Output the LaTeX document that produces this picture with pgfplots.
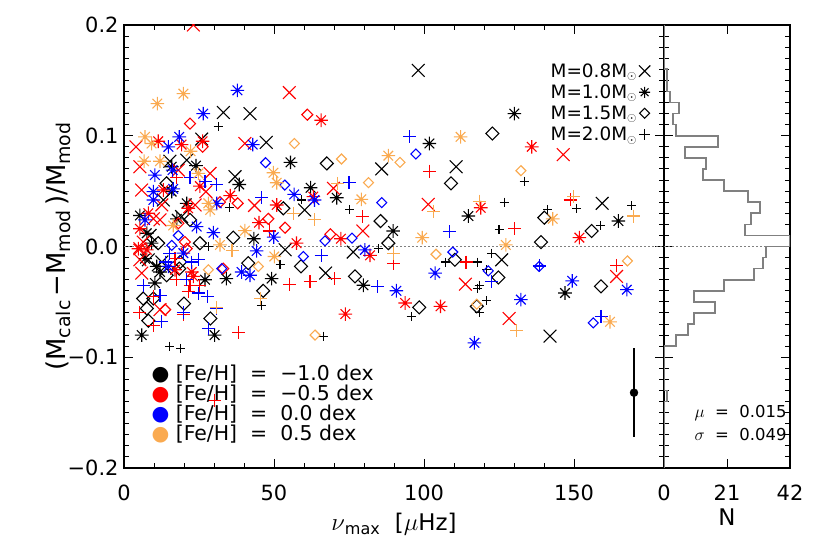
\documentclass[border=0pt]{standalone}
\usepackage{pgfplots}
\pgfplotsset{compat=1.18}
\usepackage{fontspec}
\setmainfont{DejaVu Sans}
\definecolor{feorange}{RGB}{250,170,80}
\definecolor{histgray}{RGB}{128,128,128}

% 8-armed asterisk (IDL psym=2)
\pgfdeclareplotmark{ast8}{%
  \pgfpathmoveto{\pgfqpoint{-\pgfplotmarksize}{0pt}}\pgfpathlineto{\pgfqpoint{\pgfplotmarksize}{0pt}}%
  \pgfpathmoveto{\pgfqpoint{0pt}{-\pgfplotmarksize}}\pgfpathlineto{\pgfqpoint{0pt}{\pgfplotmarksize}}%
  \pgfpathmoveto{\pgfqpoint{-.707\pgfplotmarksize}{-.707\pgfplotmarksize}}\pgfpathlineto{\pgfqpoint{.707\pgfplotmarksize}{.707\pgfplotmarksize}}%
  \pgfpathmoveto{\pgfqpoint{-.707\pgfplotmarksize}{.707\pgfplotmarksize}}\pgfpathlineto{\pgfqpoint{.707\pgfplotmarksize}{-.707\pgfplotmarksize}}%
  \pgfusepathqstroke}
% open square diamond
\pgfdeclareplotmark{dia}{%
  \pgfpathmoveto{\pgfqpoint{0pt}{\pgfplotmarksize}}%
  \pgfpathlineto{\pgfqpoint{\pgfplotmarksize}{0pt}}%
  \pgfpathlineto{\pgfqpoint{0pt}{-\pgfplotmarksize}}%
  \pgfpathlineto{\pgfqpoint{-\pgfplotmarksize}{0pt}}%
  \pgfpathclose\pgfusepathqstroke}

\newcommand{\sub}[1]{\raisebox{-5bp}{\fontsize{19}{21}\selectfont #1}}

\pgfplotsset{
  mx/.style={only marks, mark=x, mark size=9bp, mark options={line width=1.1bp}, forget plot},
  ma/.style={only marks, mark=ast8, mark size=6.8bp, mark options={line width=1.1bp}, forget plot},
  md/.style={only marks, mark=dia, mark size=6.5bp, mark options={line width=1.1bp}, forget plot},
  mp/.style={only marks, mark=+, mark size=6.5bp, mark options={line width=1.1bp}, forget plot},
  idl/.style={
    scale only axis, height=443bp,
    ymin=-0.2, ymax=0.2,
    ytick={-0.2,-0.1,0,0.1,0.2}, minor y tick num=9,
    tick align=inside, major tick length=9bp, minor tick length=5bp,
    axis line style={line width=1.3bp},
    every tick/.style={black, line width=1bp},
    tick label style={font=\fontsize{21}{23}\selectfont},
    label style={font=\fontsize{23}{25}\selectfont},
    xticklabel style={yshift=-13bp},
    clip marker paths=true,
  },
}

\begin{document}
\begin{tikzpicture}
\path[use as bounding box] (0,0) rectangle (830bp,553bp);

\begin{axis}[idl, at={(124bp,85bp)}, anchor=south west, width=540bp,
  xmin=0, xmax=180,
  xtick={0,50,100,150}, xticklabels={0,50,100,150}, minor x tick num=4,
  yticklabels={−0.2,−0.1,0.0,0.1,0.2}, yticklabel style={xshift=-2bp},
  xlabel={$\nu$\textsubscript{max}\ \ [$\mu$Hz]},
  xlabel style={yshift=-6bp},
  ylabel={(M\sub{calc}\,−M\sub{mod}\,)/M\sub{mod}},
  ylabel style={font=\fontsize{26}{28}\selectfont, yshift=-10bp},
  legend plot pos=right, legend cell align=right,
  legend style={at={(0.975,0.918)}, anchor=north east, draw=none, fill=none,
    font=\fontsize{18.5}{20}\selectfont, row sep=2bp, inner sep=0pt},
]
\addlegendimage{only marks, mark=x, mark size=8bp, black, mark options={line width=1.1bp}}
\addlegendentry{M=0.8M$_\odot$}
\addlegendimage{only marks, mark=ast8, mark size=5.5bp, black, mark options={line width=1.1bp}}
\addlegendentry{M=1.0M$_\odot$}
\addlegendimage{only marks, mark=dia, mark size=5bp, black, mark options={line width=1.1bp}}
\addlegendentry{M=1.5M$_\odot$}
\addlegendimage{only marks, mark=+, mark size=5.5bp, black, mark options={line width=1.1bp}}
\addlegendentry{M=2.0M$_\odot$}

\addplot[histgray, line width=1.2bp, dash pattern=on 1.5bp off 2.5bp, forget plot] coordinates {(0,0) (180,0)};

% [Fe/H] = -1.0 (black)
\addplot[mx, black] coordinates {(98.1,0.159) (33.1,0.121) (42,0.120) (25.9,0.097) (47.4,0.094) (37,0.063) (15.3,0.077) (20.9,0.078) (85.9,0.070) (110.7,0.072) (60.2,0.033) (159.4,0.039) (13.1,0.042) (19.2,0.027) (8.7,0.010) (53.7,-0.003) (76.4,-0.005) (125.9,-0.012) (67.2,-0.024) (8.1,-0.012) (12.6,-0.014) (142,-0.081)};
\addplot[ma, black] coordinates {(130.1,0.120) (101.8,0.093) (24,0.073) (15.9,0.072) (55.5,0.076) (38.4,0.056) (62.2,0.053) (70.9,0.044) (15.9,0.0495) (5.3,0.028) (20.9,0.039) (17.6,0.025) (89.7,0.014) (114.8,0.0275) (164.8,0.023) (43.3,0.007) (9.2,0.003) (7.6,0.012) (7,-0.011) (10.9,-0.018) (12,-0.023) (10.3,-0.033) (27,-0.030) (34.1,-0.029) (49.2,-0.029) (79.8,-0.035) (147,-0.042) (5.9,-0.080) (30.2,-0.080)};
\addplot[md, black] coordinates {(122.8,0.102) (67.6,0.075) (109,0.057) (14.2,0.057) (53.1,0.0345) (85.5,0.023) (140.1,0.026) (155.9,0.014) (139,0.004) (88.1,0.003) (22,0.024) (36.4,0.008) (25.3,0.003) (11.4,0.003) (14.2,-0.026) (18.7,-0.014) (18.4,-0.020) (41.4,-0.015) (59,-0.018) (110.3,-0.012) (124.8,-0.028) (77,-0.027) (159,-0.036) (6.4,-0.047) (9.8,-0.047) (7.6,-0.056) (8.1,-0.067) (20,-0.0515) (28.8,-0.065) (46.4,-0.040) (98.4,-0.055) (117.6,-0.054)};
\addplot[mp, black, mark size=4.5bp] coordinates {(31.4,0.108) (133.4,0.059) (59.2,0.042) (126.7,0.040) (35.3,0.035) (75.3,0.0335) (150.9,0.0345) (141.2,0.0335) (169.2,0.037) (158.7,0.019) (125,0.015) (28.1,0.0) (84.8,-0.002) (52,-0.016) (107.2,-0.014) (117.9,-0.014) (122.6,-0.006) (120.9,-0.021) (118.4,-0.035) (117.8,-0.038) (15.3,-0.090) (18.9,-0.092) (45.8,-0.053) (66.4,-0.081) (95.7,-0.063) (120.7,-0.049) (118.4,-0.060)};

% [Fe/H] = -0.5 (red)
\addplot[mx, red] coordinates {(23.1,0.2) (55.1,0.139) (40.3,0.093) (146.4,0.083) (4,0.090) (5.3,0.072) (18.1,0.069) (28.7,0.066) (69.8,0.0525) (5.9,0.051) (27.3,0.0495) (101.4,0.038) (12.6,0.0375) (23.7,0.0375) (43.5,0.037) (9.8,0.025) (12,0.024) (79.6,0.014) (6.4,0.004) (5.3,-0.002) (5.3,-0.012) (5.9,-0.024) (113.8,-0.034) (164.2,-0.027) (12,-0.057) (128.4,-0.065)};
\addplot[ma, red] coordinates {(65.7,0.114) (11.4,0.095) (26.2,0.095) (19.2,0.092) (135.9,0.090) (25.3,0.0545) (35.4,0.046) (63.1,0.045) (13.1,0.051) (50.9,0.0375) (21.4,0.0345) (8.1,0.030) (45,0.0215) (5.3,0.016) (118.9,0.035) (72.3,0.007) (57.5,0.003) (151.8,0.008) (4.8,-0.002) (7.6,-0.003) (82,-0.008) (17,-0.021) (22.6,-0.023) (23.1,-0.027) (73.8,-0.061) (93.7,-0.051) (105.5,-0.054)};
\addplot[md, red, mark size=5.5bp] coordinates {(61.1,0.119) (22,0.111) (26.2,0.090) (37.9,0.039) (48.1,0.025) (53.7,0.017) (68.8,0.011) (18.1,0.021) (20.3,0.004) (20.9,-0.002) (33.1,-0.020) (13.7,-0.057) (32,0.040)};
\addplot[mp, red] coordinates {(101.8,0.068) (148.7,0.042) (17.6,0.062) (79.4,0.027) (130.3,0.016) (48.4,0.014) (89.8,-0.015) (114,-0.014) (164.2,-0.017) (17,-0.011) (55.1,-0.034) (62,-0.032) (70.2,-0.029) (17.6,-0.030) (22,-0.035) (25.3,-0.035) (21.4,-0.041) (9.8,-0.045) (5.3,-0.060) (19.7,-0.061) (9.8,-0.071) (38.2,-0.078) (30.3,-0.139)};

% [Fe/H] = 0.0 (blue)
\addplot[ma, blue] coordinates {(37.8,0.141) (26.4,0.120) (18.4,0.099) (14.8,0.090) (42.9,0.092) (10.3,0.0645) (16.2,0.069) (16.4,0.052) (9.8,0.0495) (9.8,0.042) (56.7,0.047) (63.5,0.042) (30.9,0.039) (7,0.024) (24.2,0.018) (29.8,0.0125) (49.9,0.0085) (80.3,-0.003) (44.2,-0.004) (19.8,-0.006) (14.8,-0.018) (39.2,-0.023) (42,-0.026) (103.7,-0.024) (90.8,-0.040) (149.4,-0.031) (167.6,-0.039) (116.8,-0.087) (132.3,-0.048)};
\addplot[md, blue, mark size=5bp] coordinates {(97.3,0.0835) (47.2,0.0757) (53.6,0.0555) (85.9,0.0396) (76,0.0075) (67,0.005) (18.1,0.010) (15.9,0.001) (59.8,-0.009) (109.6,-0.005) (121.4,-0.022) (138.4,-0.018) (32.6,-0.020) (156.4,-0.069)};
\addplot[mp, blue] coordinates {(95.3,0.099) (22,0.062) (27,0.0586) (30.9,0.056) (75,0.0576) (45.9,0.0444) (108.4,0.0134) (65.7,-0.008) (84.4,-0.0365) (122.6,-0.032) (138.4,-0.0176) (6.4,-0.035) (15.3,-0.006) (13.7,-0.014) (22.6,-0.014) (24.8,-0.012) (20.9,-0.030) (12,-0.044) (12.6,-0.068) (24.8,-0.042) (27.8,-0.045) (28.1,-0.074) (30.9,-0.056) (19.8,-0.060) (159,-0.063)};

% [Fe/H] = 0.5 (orange)
\addplot[ma, feorange] coordinates {(11.1,0.129) (19.8,0.138) (7,0.099) (9.2,0.093) (112.2,0.099) (88.1,0.082) (22.2,0.086) (6.7,0.077) (12,0.077) (24.8,0.066) (49.8,0.0666) (50.9,0.0576) (79.1,0.0426) (28.1,0.039) (28.7,0.033) (16.4,0.019) (40.3,0.0143) (142.9,0.025) (99.4,0.008) (127.3,0.0014) (32,0.0014) (50.1,-0.009) (162,-0.068)};
\addplot[md, feorange, mark size=5bp] coordinates {(56.8,0.093) (72.5,0.079) (81.5,0.0576) (92,0.076) (132.3,0.0685) (104,-0.007) (44.8,-0.018) (28.1,-0.021) (167.8,-0.013) (63.7,-0.080) (117.6,-0.052)};
\addplot[mp, feorange] coordinates {(71.1,0.057) (118.4,0.041) (149.8,0.045) (103.3,0.032) (169.8,0.0275) (56.4,0.030) (63.4,0.024) (89.8,-0.006) (36,-0.004) (30.7,-0.055) (130.9,-0.076) (45.5,-0.047)};

% typical error bar
\addplot[black, only marks, mark=*, mark size=4bp, forget plot,
  error bars/.cd, y dir=both, y explicit, error mark=none,
  error bar style={line width=1.1bp}] coordinates {(170,-0.132) +- (0,0.04)};

\node[anchor=west, font=\fontsize{20.5}{22}\selectfont] at (axis cs:8,-0.115) {\textcolor{black}{●}\ [Fe/H]\ \ =\ \ −1.0\ dex};
\node[anchor=west, font=\fontsize{20.5}{22}\selectfont] at (axis cs:8,-0.133) {\textcolor{red}{●}\ [Fe/H]\ \ =\ \ −0.5\ dex};
\node[anchor=west, font=\fontsize{20.5}{22}\selectfont] at (axis cs:8,-0.151) {\textcolor{blue}{●}\ [Fe/H]\ \ =\ \ 0.0\ dex};
\node[anchor=west, font=\fontsize{20.5}{22}\selectfont] at (axis cs:8,-0.169) {\textcolor{feorange}{●}\ [Fe/H]\ \ =\ \ 0.5\ dex};
\end{axis}

\begin{axis}[idl, at={(664bp,85bp)}, anchor=south west, width=126bp,
  xmin=0, xmax=42, xtick={0,21,42}, xticklabels={0,21,42},
  yticklabels={},
  xlabel={N}, xlabel style={yshift=-2bp},
]
\addplot[histgray, line width=1.2bp, dash pattern=on 1.5bp off 2.5bp] coordinates {(0,0) (42,0)};
\addplot[histgray, line width=1.6bp] coordinates {
(0,0.2) (0,0.16) (1,0.16) (1,0.14) (2,0.14) (2,0.13) (5,0.13) (5,0.12)
(3,0.12) (3,0.11) (4,0.11) (4,0.10) (18,0.10) (18,0.09) (7,0.09) (7,0.08)
(14,0.08) (14,0.07) (13,0.07) (13,0.06) (20,0.06) (20,0.05) (28,0.05) (28,0.04)
(32,0.04) (32,0.03) (29,0.03) (29,0.02) (27,0.02) (27,0.01) (42,0.01) (42,0)
(34,0) (34,-0.01) (33,-0.01) (33,-0.02) (30,-0.02) (30,-0.03) (20,-0.03) (20,-0.04)
(10,-0.04) (10,-0.05) (17,-0.05) (17,-0.06) (10,-0.06) (10,-0.07) (8,-0.07) (8,-0.08)
(4,-0.08) (4,-0.09) (0,-0.09) (0,-0.13) (1,-0.13) (1,-0.14) (0,-0.14) (0,-0.2)};
\node[anchor=east, font=\fontsize{16.5}{18}\selectfont] at (axis cs:42,-0.150) {$\mu$\ \ =\ \ 0.015};
\node[anchor=east, font=\fontsize{16.5}{18}\selectfont] at (axis cs:42,-0.170) {$\sigma$\ \ =\ \ 0.049};
\end{axis}
\end{tikzpicture}
\end{document}
